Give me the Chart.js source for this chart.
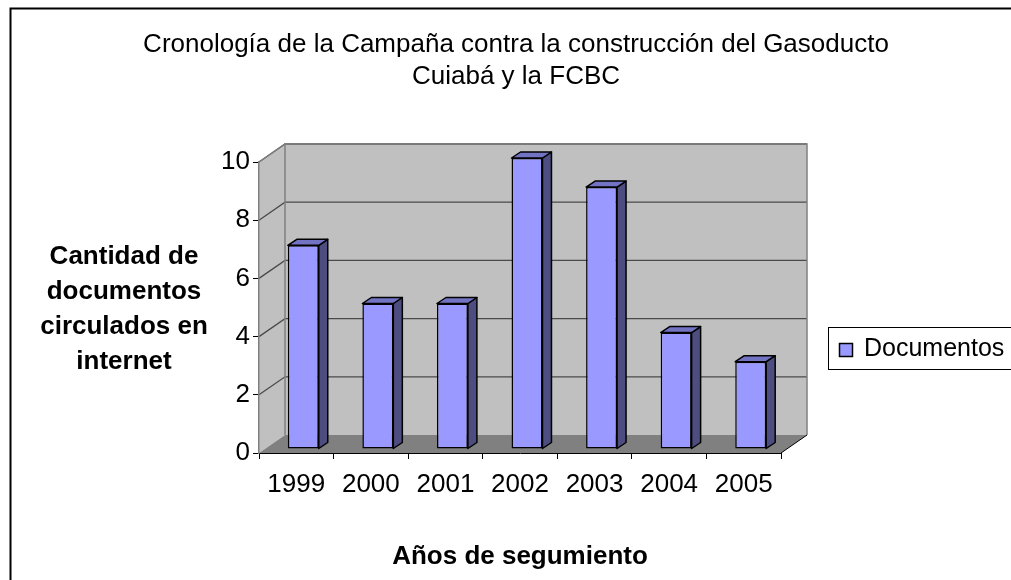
<!DOCTYPE html>
<html>
<head>
<meta charset="utf-8">
<script src="https://cdn.jsdelivr.net/npm/chart.js@4/dist/chart.umd.min.js"></script>
<style>
  html, body { margin: 0; padding: 0; background: #fff; }
  canvas { display: block; }
</style>
</head>
<body>
<canvas id="chart" width="1011" height="580"></canvas>
<script>
// ── DATA ──────────────────────────────────────────────────────
const years       = ["1999", "2000", "2001", "2002", "2003", "2004", "2005"];
const documentos  = [7, 5, 5, 10, 9, 4, 3];
const yTicks      = [0, 2, 4, 6, 8, 10];
const titleLines  = ["Cronología de la Campaña contra la construcción del Gasoducto", "Cuiabá y la FCBC"];
const yTitleLines = ["Cantidad de", "documentos", "circulados en", "internet"];
const xTitle      = "Años de segumiento";
const seriesName  = "Documentos";

// ── 3D LOOK ───────────────────────────────────────────────────
const WALL  = { dx: 26, dy: -18 };   // depth of the floor / walls
const SHIFT = { dx: 7,  dy: -4 };    // bars stand a bit inside the floor
const BAR   = { dx: 9,  dy: -6 };    // depth of each bar
const FONT  = "'Liberation Sans', Arial, sans-serif";

const wallsPlugin = {
  id: "walls",
  beforeDraw(chart) {
    const { ctx, chartArea: a, scales: { y } } = chart;
    const L = a.left, R = a.right;
    const T = y.getPixelForValue(yTicks[yTicks.length - 1]);
    const B = y.getPixelForValue(0);
    const dx = WALL.dx, dy = WALL.dy;

    ctx.save();
    // left wall
    ctx.fillStyle = "#c0c0c0";
    ctx.beginPath();
    ctx.moveTo(L, B); ctx.lineTo(L, T); ctx.lineTo(L + dx, T + dy); ctx.lineTo(L + dx, B + dy);
    ctx.closePath(); ctx.fill();
    // back wall
    ctx.fillRect(L + dx, T + dy, R - L, B - T);
    // floor
    ctx.fillStyle = "#808080";
    ctx.beginPath();
    ctx.moveTo(L, B); ctx.lineTo(R, B); ctx.lineTo(R + dx, B + dy); ctx.lineTo(L + dx, B + dy);
    ctx.closePath(); ctx.fill();

    // gridlines, left wall + back wall
    ctx.strokeStyle = "#4a4a4a";
    ctx.lineWidth = 1.3;
    yTicks.forEach(v => {
      if (v === 0) return;
      const py = y.getPixelForValue(v);
      ctx.beginPath();
      ctx.moveTo(L, py); ctx.lineTo(L + dx, py + dy); ctx.lineTo(R + dx, py + dy);
      ctx.stroke();
    });

    // wall outlines
    ctx.strokeStyle = "#808080";
    ctx.lineWidth = 1.5;
    ctx.beginPath();
    ctx.moveTo(L + dx, B + dy); ctx.lineTo(L + dx, T + dy); ctx.lineTo(R + dx, T + dy); ctx.lineTo(R + dx, B + dy);
    ctx.moveTo(L, T); ctx.lineTo(L + dx, T + dy);
    ctx.stroke();
    // floor right edge
    ctx.strokeStyle = "#000";
    ctx.lineWidth = 1;
    ctx.beginPath();
    ctx.moveTo(R, B); ctx.lineTo(R + dx, B + dy);
    ctx.stroke();
    ctx.restore();
  }
};

const barsPlugin = {
  id: "bars3d",
  beforeDatasetsDraw(chart) {
    chart.ctx.save();
    chart.ctx.translate(SHIFT.dx, SHIFT.dy);
  },
  afterDatasetsDraw(chart) {
    const ctx = chart.ctx;
    const meta = chart.getDatasetMeta(0);
    ctx.lineWidth = 1.5;
    ctx.strokeStyle = "#000";
    ctx.lineJoin = "round";
    meta.data.forEach(el => {
      const { x, y, base, width } = el.getProps(["x", "y", "base", "width"], true);
      const l = x - width / 2, r = x + width / 2;
      // side
      ctx.fillStyle = "#4d4d80";
      ctx.beginPath();
      ctx.moveTo(r, y); ctx.lineTo(r + BAR.dx, y + BAR.dy); ctx.lineTo(r + BAR.dx, base + BAR.dy); ctx.lineTo(r, base);
      ctx.closePath(); ctx.fill(); ctx.stroke();
      // top
      ctx.fillStyle = "#7373c4";
      ctx.beginPath();
      ctx.moveTo(l, y); ctx.lineTo(l + BAR.dx, y + BAR.dy); ctx.lineTo(r + BAR.dx, y + BAR.dy); ctx.lineTo(r, y);
      ctx.closePath(); ctx.fill(); ctx.stroke();
    });
    ctx.restore();
  }
};

const framePlugin = {
  id: "frame",
  afterDraw(chart) {
    const ctx = chart.ctx;
    ctx.save();
    // outer border
    ctx.strokeStyle = "#000";
    ctx.lineWidth = 2;
    ctx.strokeRect(10.5, 8.5, 1100, 700);

    // chart title, centred on the whole chart
    ctx.fillStyle = "#000";
    ctx.font = "26px " + FONT;
    ctx.textAlign = "center";
    ctx.textBaseline = "alphabetic";
    titleLines.forEach((t, i) => ctx.fillText(t, 516, 52 + i * 32));

    // y axis title, horizontal lines
    ctx.font = "bold 26px " + FONT;
    ctx.textBaseline = "middle";
    yTitleLines.forEach((t, i) => ctx.fillText(t, 124, 257 + i * 35));

    // legend
    const ds = chart.data.datasets[0];
    ctx.lineWidth = 1;
    ctx.strokeStyle = "#000";
    ctx.strokeRect(828.5, 327.5, 300, 42);
    ctx.fillStyle = ds.backgroundColor;
    ctx.fillRect(839.5, 343.5, 13, 13);
    ctx.lineWidth = 1.5;
    ctx.strokeRect(839.5, 343.5, 13, 13);
    ctx.fillStyle = "#000";
    ctx.font = "25px " + FONT;
    ctx.textAlign = "left";
    ctx.fillText(ds.label, 864, 349);
    ctx.restore();
  }
};

new Chart(document.getElementById("chart"), {
  type: "bar",
  data: {
    labels: years,
    datasets: [{
      label: seriesName,
      data: documentos,
      backgroundColor: "#9999ff",
      borderColor: "#000",
      borderWidth: 1.5,
      borderSkipped: false,
      categoryPercentage: 1,
      barPercentage: 0.415,
    }],
  },
  options: {
    responsive: false,
    animation: false,
    devicePixelRatio: 1,
    layout: { padding: { left: 0, right: 230, top: 162, bottom: 0 } },
    plugins: {
      legend: { display: false },
      tooltip: { enabled: false },
      title: { display: false },
    },
    scales: {
      x: {
        afterFit: s => { s.height = 127; },
        grid: { offset: true, drawOnChartArea: false, drawTicks: true, tickLength: 6, tickColor: "#000" },
        border: { display: true, color: "#000", width: 1 },
        ticks: { color: "#000", font: { family: FONT, size: 26 }, padding: 10, maxRotation: 0, autoSkip: false },
        title: {
          display: true,
          text: xTitle,
          color: "#000",
          font: { family: FONT, size: 26, weight: "bold", lineHeight: 1.2 },
          padding: { top: 0, bottom: 8 },
        },
      },
      y: {
        min: 0,
        max: 10,
        afterFit: s => { s.width = 259; },
        afterBuildTicks: s => { s.ticks = yTicks.map(v => ({ value: v })); },
        grid: { drawOnChartArea: false, drawTicks: true, tickLength: 6, tickColor: "#000" },
        border: { display: true, color: "#808080", width: 1.5 },
        ticks: { color: "#000", font: { family: FONT, size: 26 }, padding: 3 },
      },
    },
  },
  plugins: [wallsPlugin, barsPlugin, framePlugin],
});
</script>
</body>
</html>
